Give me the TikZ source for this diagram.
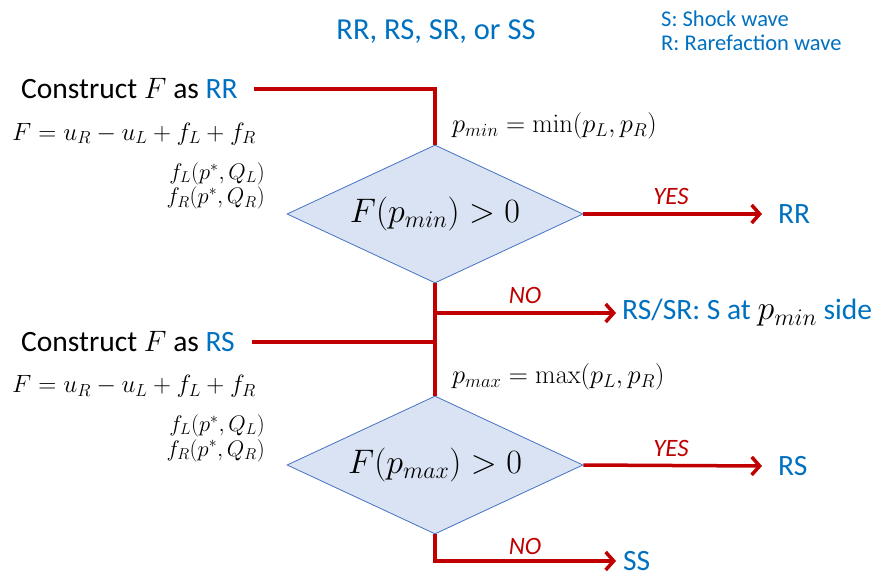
\documentclass[tikz,border=0pt]{standalone}
\usepackage{fix-cm}
\usepackage[no-math]{fontspec}
\setmainfont{Carlito}
\usetikzlibrary{shapes.geometric,arrows.meta}
\definecolor{flowred}{RGB}{192,0,0}
\definecolor{caseblue}{RGB}{0,112,192}
\definecolor{testfill}{RGB}{218,227,243}
\definecolor{testline}{RGB}{68,114,196}
\newcommand{\fs}[2][1.2]{\fontsize{#2}{#1\dimexpr #2pt\relax}\selectfont}
\begin{document}
\begin{tikzpicture}[x=1pt,y=-1pt,
  flow/.style={draw=flowred,line width=3.5pt},
  flowarrow/.style={flow,-{Straight Barb[length=8pt,width=18pt]}},
  test/.style={diamond,draw=testline,line width=0.8pt,fill=testfill,
    minimum width=296pt,minimum height=138pt,inner sep=0pt},
  testtext/.style={font=\fs{34},inner sep=0pt},
  heading/.style={inner sep=0pt,font=\fs{29.5}},
  result/.style={inner sep=0pt,font=\fs{29.5},text=caseblue},
  answer/.style={inner sep=0pt,font=\fs{25}\itshape,text=flowred},
  formula/.style={inner sep=0pt,font=\fs{25}},
  args/.style={inner sep=0pt,font=\fs[1.1]{22.5},align=right},
  bound/.style={inner sep=0pt,font=\fs{26.5}},
  legend/.style={inner sep=0pt,font=\fs[1.07]{22.5},text=caseblue,align=left}]
\useasboundingbox (0,0) rectangle (883,577);

% title and legend
\node[result,font=\fs{30.5}] (title) at (436,32) {RR, RS, SR, or SS};
\node[legend,anchor=west] (legend) at (661,31) {S: Shock wave\\R: Rarefaction wave};

% first test: both rarefactions
\node[heading,anchor=west] (cRR) at (21,89) {Construct $F$ as \textcolor{caseblue}{RR}};
\node[formula,anchor=west] (eqRR) at (12,134) {$F=u_R-u_L+f_L+f_R$};
\node[args,anchor=east] (fRR) at (265,186) {$f_L(p^*,Q_L)$\\$f_R(p^*,Q_R)$};
\node[test] (d1) at (435,214) {};
\node[testtext] (d1t) at (d1.center) {$F(p_{min})>0$};
\node[bound,anchor=west] (pmin) at (452,126) {$p_{min}=\min(p_L,p_R)$};
\node[result,anchor=west] (oRR) at (778,214) {RR};
\node[result,anchor=west] (oRSSR) at (622,313)
  {RS/SR: S at {\fs{34}\color{black}$p_{min}$} side};
\node[answer] (yes1) at (671,196) {YES};
\node[answer] (no1) at (525,295) {NO};

% second test: rarefaction and shock
\node[heading,anchor=west] (cRS) at (21,342) {Construct $F$ as \textcolor{caseblue}{RS}};
\node[formula,anchor=west] (eqRS) at (12,386) {$F=u_R-u_L+f_L+f_R$};
\node[args,anchor=east] (fRS) at (265,438) {$f_L(p^*,Q_L)$\\$f_R(p^*,Q_R)$};
\node[test] (d2) at (435,465) {};
\node[testtext] (d2t) at (d2.center) {$F(p_{max})>0$};
\node[bound,anchor=west] (pmax) at (452,377) {$p_{max}=\max(p_L,p_R)$};
\node[result,anchor=west] (oRS) at (778,466) {RS};
\node[result,anchor=west] (oSS) at (623,561) {SS};
\node[answer] (yes2) at (671,448) {YES};
\node[answer] (no2) at (525,546) {NO};

% connectors
\draw[flow,shorten <=-1pt] ([xshift=17pt]cRR.east) -| (d1.north);
\draw[flow] (d1.south) -- (d2.north);
\draw[flow] ([xshift=17pt]cRS.east) -- (cRS.east -| d1.south);
\draw[flowarrow] (d1.south |- oRSSR.west) -- ([xshift=-6pt]oRSSR.west);
\draw[flowarrow] (d1.east) -- ([xshift=-16pt]oRR.west);
\draw[flowarrow] (d2.east) -- ([xshift=-16pt]oRS.west);
\draw[flowarrow] (d2.south) |- ([xshift=-7pt]oSS.west);
\end{tikzpicture}
\end{document}
